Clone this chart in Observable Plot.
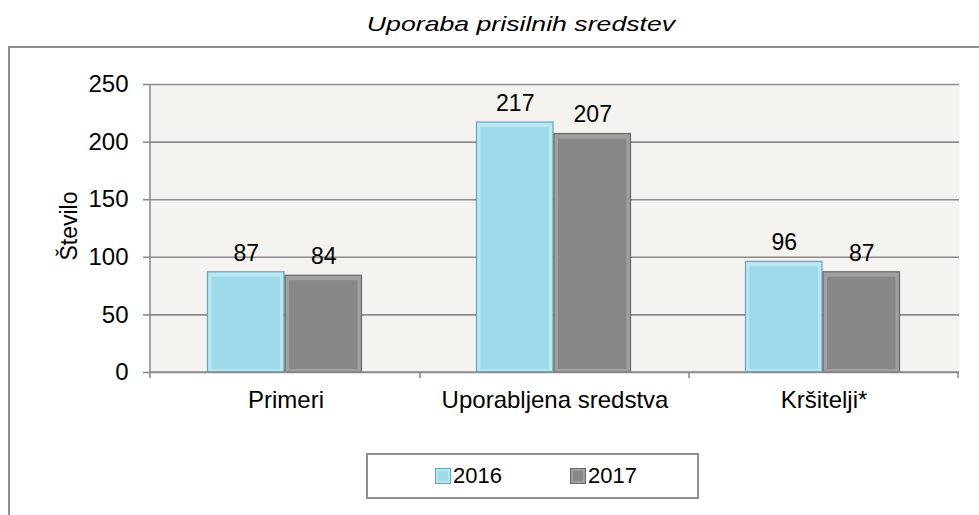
<!DOCTYPE html>
<html><head><meta charset="utf-8">
<script src="https://cdn.jsdelivr.net/npm/d3@7"></script>
<script src="https://cdn.jsdelivr.net/npm/@observablehq/plot@0.6"></script>
<style>
body{margin:0;background:#fff;font-family:"Liberation Sans",Arial,sans-serif;}
#wrap{position:relative;width:979px;height:515px;overflow:hidden;background:#fff;}
#border{position:absolute;left:8px;top:46px;width:1000px;height:600px;border-left:2px solid #8e8e8e;border-top:2px solid #8e8e8e;}
#title{position:absolute;left:521px;top:12px;transform:translateX(-50%) scaleX(1.27);font-style:italic;font-size:21px;color:#000;white-space:nowrap;}
#ylab{position:absolute;left:69px;top:226px;transform:translate(-50%,-50%) rotate(-90deg);font-size:23px;white-space:nowrap;}
#chart{position:absolute;left:0;top:0;}
#legend{position:absolute;left:366px;top:453px;width:329px;height:42px;border:2px solid #8e8e8e;background:#fff;}
.li{position:absolute;top:7px;font-size:22px;display:flex;align-items:center;height:28px;}
.sw{width:14px;height:14px;margin-right:3px;box-sizing:border-box;}
</style></head>
<body>
<div id="wrap">
  <div id="border"></div>
  <div id="title">Uporaba prisilnih sredstev</div>
  <div id="chart"></div>
  <div id="ylab">Število</div>
  <div id="legend"></div>
</div>
<script>
const categories = ["Primeri", "Uporabljena sredstva", "Kršitelji*"];
const years = ["2016", "2017"];
const values2016 = [87, 217, 96];
const values2017 = [84, 207, 87];
const yTicks = [0, 50, 100, 150, 200, 250];

const colors = {
  "2016": {edge: "#b8e6f3", body: "#9ed9ea", stroke: "#5fa8be"},
  "2017": {edge: "#a0a0a0", body: "#878787", stroke: "#676767"}
};

const d16 = categories.map((c, i) => ({cat: c, value: values2016[i]}));
const d17 = categories.map((c, i) => ({cat: c, value: values2017[i]}));

function extras(index, scales, values, dims) {
  const g = d3.create("svg:g");
  const x = scales.x;
  const bw = x.bandwidth ? x.bandwidth() : (dims.width - dims.marginLeft - dims.marginRight) / categories.length;
  const y0 = scales.y(0);
  const col = "#8c8c8c";
  g.append("line").attr("x1", dims.marginLeft).attr("x2", dims.marginLeft)
    .attr("y1", scales.y(250)).attr("y2", y0 + 6).attr("stroke", col).attr("stroke-width", 1.6);
  g.append("line").attr("x1", dims.marginLeft).attr("x2", dims.width - dims.marginRight)
    .attr("y1", y0).attr("y2", y0).attr("stroke", col).attr("stroke-width", 1.6);
  for (const c of categories) {
    const xb = x(c) + bw;
    g.append("line").attr("x1", xb).attr("x2", xb).attr("y1", y0).attr("y2", y0 + 6)
      .attr("stroke", col).attr("stroke-width", 1.6);
  }
  return g.node();
}

function barMarks(data, year, insL, insR) {
  const c = colors[year];
  return [
    Plot.barY(data, {x: "cat", y: "value", insetLeft: insL, insetRight: insR, fill: c.edge, stroke: c.stroke, strokeWidth: 1.2}),
    Plot.barY(data, {x: "cat", y: "value", insetLeft: insL + 4, insetRight: insR + 4, insetTop: 5, insetBottom: 3, fill: c.body})
  ];
}

const plot = Plot.plot({
  width: 979, height: 515,
  marginLeft: 150, marginRight: 20, marginTop: 84, marginBottom: 143,
  style: {fontFamily: "'Liberation Sans', Arial, sans-serif", fontSize: "24px", color: "#000", background: "transparent", overflow: "visible"},
  x: {domain: categories, padding: 0, axis: null},
  y: {domain: [0, 250], axis: null},
  marks: [
    Plot.frame({fill: "#f4f3ef", stroke: null}),
    Plot.ruleY(yTicks, {stroke: "#8c8c8c", strokeWidth: 1.6}),
    Plot.axisY({ticks: yTicks, tickSize: 7, tickPadding: 15, fontSize: 24, label: null, stroke: "#8c8c8c", strokeWidth: 1.6}),
    Plot.axisX({tickSize: 0, tickPadding: 18, fontSize: 24, label: null}),
    ...barMarks(d16, "2016", 56.5, 136),
    ...barMarks(d17, "2017", 134, 58.5),
    Plot.text(d16, {x: "cat", y: "value", text: d => String(d.value), dx: -39.75, dy: -19, fontSize: 23, fill: "#000"}),
    Plot.text(d17, {x: "cat", y: "value", text: d => String(d.value), dx: 37.75, dy: -19, fontSize: 23, fill: "#000"}),
    extras
  ]
});
document.getElementById("chart").appendChild(plot);

const legend = document.getElementById("legend");
const lx = [68, 203];
years.forEach((yr, i) => {
  const c = colors[yr];
  const item = document.createElement("div");
  item.className = "li";
  item.style.left = lx[i] + "px";
  item.innerHTML = `<div class="sw" style="background:${c.body};border:2px solid ${c.edge};outline:1px solid ${c.stroke}"></div><span>${yr}</span>`;
  legend.appendChild(item);
});
</script>
</body></html>
